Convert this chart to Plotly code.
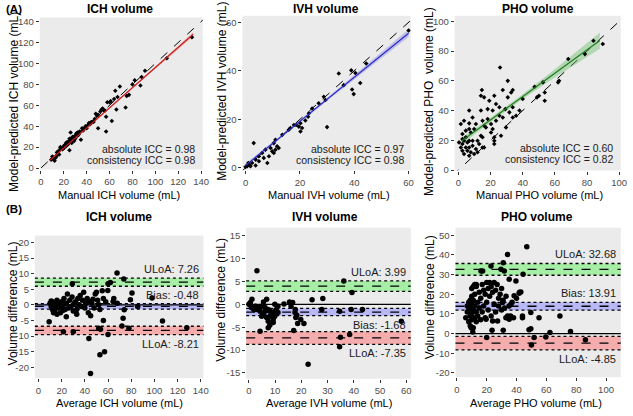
import plotly.graph_objects as go

W, H = 633, 416
FONT = "Liberation Sans, Arial, sans-serif"

# ---------------- Panel A data (manual, model-predicted) ----------------
ich_manual = [9,10,11,12,13,14,15,16,17,18,19,20,21,22,23,24,25,25,26,26,27,28,29,30,31,32,33,34,35,36,37,38,39,40,41,42,43,44,45,46,47,48,49,50,50,52,53,54,55,56,57,57,58,60,61,62,64,65,66,67,69,74,75,77,80,82,87,88,91,110,132,14,16,20,22,23,24,27,29,30,32,33,10]
ich_pred   = [8,9,10,7,10,12,14,13,20,19,18,21,22,24,22,25,17,28,34,26,24,30,28,31,33,31,34,35,27,38,36,38,40,38,41,43,42,44,44,44,47,52,50,38,51,54,56,57,55,55,35,49,63,63,64,45,66,74,56,68,78,58,69,70,80,84,79,87,93,105,125,15,17,19,21,25,23,29,26,28,34,32,11]

ivh_manual = [60,44.4,38.9,40.4,34.3,42.2,36.1,39.2,39.8,28.8,29.4,26.9,24.5,23,22,20.2,18.6,19.6,20.8,30,20.2,16.5,15.9,13.5,3,11,10.4,11.6,9.2,7.3,9.8,6.1,4.9,8,3.7,2.4,1.2,0.6,1.8,3.7,8.6,10.4,12.2,11,6.7,4.9,0,1,17.8,23.3]
ivh_pred   = [56.6,43,40.2,39.1,38.9,35,34.1,32.3,30.4,29.3,28,26.6,24.5,21.1,19.5,18.4,17.7,17,16.4,16.8,15,16.4,15.7,13.6,10.2,11.6,10.2,8.9,8.2,7.5,6.8,6.1,4.8,2,3.4,2,1.4,0.7,0.7,1,4.8,6.1,8.2,7.5,4.1,2.7,0.4,2,17.7,22.5]

pho_manual = [89.8,84,78.7,68.3,62.6,62,52.6,47.4,53.7,53.7,48.9,50.1,40,25.9,30.7,33.8,32.8,27.6,30.7,22.3,14.6,14,16,19.2,23.4,29.2,33.8,31.7,25.5,21.3,18.2,14,6.7,8.8,3.5,1.5,6.7,10.9,15,16,20.3,23.4,27.6,35.9,33.8,18.2,21.3,22.3,22.3,14,15,11.9,9.8,6.7,4.6,7.7,2.5,4.6,6.7,3.5,2.5,4.6,6.7,8.8,10.9,12.9,1.5,2.5,5.6,7.7,9.8,3.5,6.7,11.9,0.4,2.5,5.6,8.8,15,22.3,26.5,29.6,38,25.5,16,20.3,17.1]
pho_pred   = [84.8,87,78,74.7,60,59,59,56,52.2,46.6,48.9,50,47.8,69,60,53.8,52.2,53.8,48.9,50,53.8,50,48.9,46.6,44.4,41,42.2,38.8,36.5,40,41,40,40,35.4,33.2,31,31.4,31,33.2,29.8,31,33.2,35.4,36.5,35.4,34.3,27.6,22,19.7,23.1,22,19.7,27.6,27.6,26.5,25.3,24.2,22,19.7,19.7,17.5,15.2,15.2,16.4,14.1,17.5,15.2,13,13,11.9,10.8,10.8,9.6,11.9,18.6,20.8,18.6,19.7,15.2,17.5,23.1,28.7,40,42.2,15.2,25.3,28.7]

# regression fits with confidence ribbons
ich_fit_x = [8, 40, 70, 100, 133]
ich_fit_y = [7.5, 38.3, 67.2, 96.1, 127.9]
ich_fit_lo = [6.3, 37.6, 66.6, 95.0, 125.9]
ich_fit_hi = [8.7, 39.0, 67.8, 97.2, 129.9]

ivh_fit_x = [0, 15, 30, 45, 60]
ivh_fit_y = [1.0, 14.6, 28.3, 41.9, 55.5]
ivh_fit_lo = [0.2, 14.1, 27.7, 40.9, 53.9]
ivh_fit_hi = [1.8, 15.1, 28.9, 42.9, 57.1]

pho_fit_x = [2, 20, 40, 60, 88]
pho_fit_y = [19.6, 33.7, 49.4, 65.1, 87.1]
pho_fit_lo = [17.4, 32.2, 47.8, 62.3, 81.6]
pho_fit_hi = [21.8, 35.2, 51.0, 67.9, 92.6]

icc_abs = ["0.98", "0.97", "0.60"]
icc_con = ["0.98", "0.98", "0.82"]

# ---------------- Panel B data (average, difference) ----------------
ich_avg = [9.2,43.5,44.9,53,57,53.5,60,67.8,73.6,60,62,59.8,29.2,80.7,79.3,74,85.6,98,64.4,68,
           21.5,30,73,72,78,107,128,56,52,
           10,11,12,12,13,14,15,15,16,17,18,19,20,21,22,23,24,25,26,27,28,29,30,31,32,33,34,35,36,37,38,39,40,41,42,43,44,45,46,47,48,49,50,51,52,53,55,56,58,65,24,33,21,11,13,16]
ich_diff = [-5.4,-10.8,-22,-16,-15,-7.8,-9.5,10.2,8.3,6.8,7.2,4.6,6.8,3.8,1.6,-1.6,-0.5,2.2,1.1,0.5,
            -8.6,-8.6,-4.3,-6.8,-7.5,-5.2,-7.3,-5,-7.5,
            0.5,-0.5,1,-1.5,0,-2,0.8,-0.8,1.5,-1,0,-2.5,1,-0.5,2,-1.5,0.5,3.5,-1,1.5,-0.5,2.5,-2,0.5,1,-1.5,2,0,3,-0.5,1.5,4,-1,0.5,2,-2.5,1,-3.5,0.5,1.8,-1,3.5,4,1.5,0,-1.5,4.5,2,1,2,-3.8,-3,-1.8,1.2,-2.5,-3]

ivh_avg = [3.1,36.2,39.3,28.2,24.1,43.3,39,34.6,27.8,58.1,38.4,34.9,34.6,22.6,17.1,4.3,7.4,18.6,21,19.8,17.9,17.6,16.1,15.5,13.4,11.1,9.9,6.8,5.6,1.2,0.6,0,1,1.9,2.5,3.7,4.3,4.9,5.6,6.2,6.8,7.4,8,8.7,9.3,9.9,10.5,11.1,8,6.2,3.1,4.9,7.4,9.9,8,9.3,17.7,16.7,18.3]
ivh_diff = [7.35,5.1,2.6,1.3,1,-1.1,-1.1,-1.5,-1.1,-3.7,-6.6,-7.2,-9.3,-13.1,-5.7,-5.9,-5.1,-4.2,-4.2,-3.3,-2.9,-1.8,-0.4,0.5,0.1,-0.4,0,1.1,0.5,1.1,0.4,0,-0.7,-1.1,-0.4,-0.7,-1.5,-0.4,-2.2,-1.5,-2.9,-3.7,-2.6,-1.8,-3.3,-1.5,-1.1,-1.8,-1.5,-0.7,-1.1,-2.6,-1.1,-2.6,-4.6,-4,-1.1,0.4,-2.4]

pho_avg = [46.9,34,22.9,31.1,31.8,29.6,17.3,16.2,44.4,35.1,39.6,42.9,41.8,38.4,36.2,30.7,49.6,44,55.1,69.1,32.9,34,35.1,24,27.3,19.6,49.6,48.4,51.8,50,59.6,62.4,76.2,86.2,23.6,31.1,20,10.7,9.6,
           6,7,7,8,8,8,9,9,9,10,10,10,10,11,11,11,12,12,12,13,13,13,14,14,15,15,16,16,17,17,18,18,19,19,20,20,21,21,22,22,23,23,24,25,25,26,26,27,28,28,29,30,30,31,32,33,34,35,36,37,38,40,42,44,11,13,9,10,12]
pho_diff = [44.2,40.3,34.4,36.1,31.9,32.7,31.9,31.9,30.2,27.6,26.8,21.2,20.5,19.2,14.9,15.8,10.7,8.1,8.1,9,8.1,9,7.3,6.4,6.4,7.3,2.5,1.9,-2,-5.8,-1.7,0.5,1,-3.1,1.7,1.7,-2,0.8,3,
            8,11,14,6,12,16,9,13,4,10,15,19,7,12,17,3,8,14,20,11,24,6,16,9,13,21,18,7,11,25,14,22,20,8,26,16,23,12,26,19,24,9,21,26,15,22,11,25,18,14,20,23,12,17,13,19,8,14,9,16,8,18,21,9,24,25,17,23,25]

# limits of agreement: value, CI low, CI high  (order: ULoA, Bias, LLoA)
ich_loa = [7.26, -0.48, -8.21]
ich_loa_lo = [5.96, -1.38, -9.56]
ich_loa_hi = [8.56, 0.42, -6.86]
ivh_loa = [3.99, -1.68, -7.35]
ivh_loa_lo = [2.85, -2.48, -8.75]
ivh_loa_hi = [5.13, -0.88, -5.95]
pho_loa = [32.68, 13.91, -4.85]
pho_loa_lo = [29.68, 11.91, -8.25]
pho_loa_hi = [35.68, 15.91, -1.45]
loa_names = ["ULoA", "Bias", "LLoA"]
label_side = [["top", "top", "bottom"], ["top", "bottom", "bottom"], ["top", "top", "bottom"]]

titles = ["ICH volume", "IVH volume", "PHO volume"]

# ---------------- Layout geometry (pixels) ----------------
panels = {
    1: dict(x=(38.3, 203.3), y=(16.7, 171.0), xr=(-0.9, 141.4), yr=(-1.4, 144.0)),
    2: dict(x=(243.5, 414.0), y=(15.0, 171.7), xr=(-1.16, 60.8), yr=(-0.98, 62.7)),
    3: dict(x=(458.5, 626.7), y=(15.0, 172.0), xr=(-2.3, 101.0), yr=(-0.33, 103.8)),
    4: dict(x=(33.3, 204.0), y=(238.0, 382.7), xr=(-3.1, 142.3), yr=(-23.5, 22.2)),
    5: dict(x=(247.3, 414.0), y=(230.0, 383.3), xr=(-1.0, 61.7), yr=(-16.3, 16.8)),
    6: dict(x=(459.3, 626.7), y=(230.0, 381.7), xr=(-0.9, 109.9), yr=(-22.2, 53.9)),
}
ticks = {
    1: ([0, 20, 40, 60, 80, 100, 120, 140], [0, 20, 40, 60, 80, 100, 120, 140]),
    2: ([0, 20, 40, 60], [0, 20, 40, 60]),
    3: ([0, 20, 40, 60, 80, 100], [0, 20, 40, 60, 80, 100]),
    4: ([0, 20, 40, 60, 80, 100, 120, 140], [-20, -15, -10, -5, 0, 5, 10, 15, 20]),
    5: ([0, 10, 20, 30, 40, 50, 60], [-15, -10, -5, 0, 5, 10, 15]),
    6: ([0, 20, 40, 60, 80, 100], [-20, -10, 0, 10, 20, 30, 40, 50]),
}

TICK_SIZE = 9.5
XT_SIZE = 11
YT_SIZE = 12
TITLE_SIZE = 12
ICC_SIZE = 10.5
LOA_SIZE = 11

def px(x):
    return x / W

def py(y):
    return 1 - y / H

fig = go.Figure()
layout = dict(width=W, height=H, margin=dict(l=0, r=0, t=0, b=0),
              paper_bgcolor="white", plot_bgcolor="#EBEBEB", showlegend=False,
              font=dict(family=FONT, color="#000000"))

for k, p in panels.items():
    s = "" if k == 1 else str(k)
    xv, yv = ticks[k]
    common = dict(showgrid=False, zeroline=False, ticks="outside", ticklen=3, tickwidth=1,
                  tickcolor="#333333", tickfont=dict(size=TICK_SIZE, color="#4D4D4D", family=FONT),
                  showline=False, fixedrange=True)
    layout["xaxis" + s] = dict(domain=[px(p["x"][0]), px(p["x"][1])], range=list(p["xr"]),
                               anchor="y" + s, tickvals=xv, ticktext=[str(v) for v in xv], **common)
    layout["yaxis" + s] = dict(domain=[py(p["y"][1]), py(p["y"][0])], range=list(p["yr"]),
                               anchor="x" + s, tickvals=yv, ticktext=[str(v) for v in yv], **common)

# ---------------- Row A ----------------
scatterA = [(ich_manual, ich_pred), (ivh_manual, ivh_pred), (pho_manual, pho_pred)]
fitsA = [(ich_fit_x, ich_fit_y, ich_fit_lo, ich_fit_hi, "#C81E1E", "rgba(240,120,120,0.45)"),
         (ivh_fit_x, ivh_fit_y, ivh_fit_lo, ivh_fit_hi, "#2B2BC8", "rgba(140,140,230,0.45)"),
         (pho_fit_x, pho_fit_y, pho_fit_lo, pho_fit_hi, "#1E7B1E", "rgba(110,190,110,0.45)")]
for i in range(3):
    k = i + 1
    s = "" if k == 1 else str(k)
    xa, ya = "x" + s, "y" + s
    p = panels[k]
    lim = [min(p["xr"][0], p["yr"][0]) - 10, max(p["xr"][1], p["yr"][1]) + 10]
    fig.add_trace(go.Scatter(x=lim, y=lim, mode="lines", xaxis=xa, yaxis=ya,
                             line=dict(color="black", width=1, dash="dash"), hoverinfo="skip"))
    fx, fy, flo, fhi, lc, fc = fitsA[i]
    fig.add_trace(go.Scatter(x=fx + fx[::-1], y=fhi + flo[::-1], mode="lines", fill="toself",
                             fillcolor=fc, line=dict(width=0), xaxis=xa, yaxis=ya, hoverinfo="skip"))
    mx, my = scatterA[i]
    fig.add_trace(go.Scatter(x=mx, y=my, mode="markers", xaxis=xa, yaxis=ya,
                             marker=dict(color="black", size=3.5, symbol="diamond")))
    fig.add_trace(go.Scatter(x=fx, y=fy, mode="lines", xaxis=xa, yaxis=ya,
                             line=dict(color=lc, width=1.2), hoverinfo="skip"))

# ---------------- Row B ----------------
scatterB = [(ich_avg, ich_diff), (ivh_avg, ivh_diff), (pho_avg, pho_diff)]
loas = [(ich_loa, ich_loa_lo, ich_loa_hi), (ivh_loa, ivh_loa_lo, ivh_loa_hi), (pho_loa, pho_loa_lo, pho_loa_hi)]
band_colors = ["rgba(120,240,120,0.6)", "rgba(150,150,255,0.6)", "rgba(250,130,130,0.6)"]
shapes = []
annotations = []
for i in range(3):
    k = i + 4
    s = str(k)
    xa, ya = "x" + s, "y" + s
    vals, los, his = loas[i]
    for j in range(3):
        shapes.append(dict(type="rect", xref=xa + " domain", yref=ya, x0=0, x1=1, y0=los[j], y1=his[j],
                           fillcolor=band_colors[j], line=dict(width=0), layer="below"))
        for yy in (los[j], his[j]):
            shapes.append(dict(type="line", xref=xa + " domain", yref=ya, x0=0, x1=1, y0=yy, y1=yy,
                               line=dict(color="black", width=1.3, dash="dot"), layer="above"))
        shapes.append(dict(type="line", xref=xa + " domain", yref=ya, x0=0, x1=1, y0=vals[j], y1=vals[j],
                           line=dict(color="black", width=1.3, dash="dash"), layer="above"))
        side = label_side[i][j]
        annotations.append(dict(xref=xa + " domain", yref=ya, x=0.985,
                                y=his[j] if side == "top" else los[j],
                                xanchor="right", yanchor="bottom" if side == "top" else "top",
                                yshift=1 if side == "top" else -1,
                                text=f"{loa_names[j]}: {vals[j]:.2f}", showarrow=False,
                                font=dict(size=LOA_SIZE, color="#1A1A1A", family=FONT)))
    shapes.append(dict(type="line", xref=xa + " domain", yref=ya, x0=0, x1=1, y0=0, y1=0,
                       line=dict(color="black", width=1.2), layer="above"))
    ax, dy = scatterB[i]
    fig.add_trace(go.Scatter(x=ax, y=dy, mode="markers", xaxis=xa, yaxis=ya,
                             marker=dict(color="black", size=5.5)))

# ---------------- Text ----------------
def ann(x, y, text, size, bold=False, angle=0, color="#000000", xanchor="center"):
    annotations.append(dict(xref="paper", yref="paper", x=px(x), y=py(y), text=f"<b>{text}</b>" if bold else text,
                            showarrow=False, textangle=angle, xanchor=xanchor, yanchor="middle",
                            font=dict(size=size, color=color, family=FONT)))

ann(2, 8, "(A)", 11.5, bold=True, xanchor="left")
ann(2, 211, "(B)", 11.5, bold=True, xanchor="left")
title_x = [120, 328, 543]
for i in range(3):
    ann(title_x[i], 8, titles[i], TITLE_SIZE, bold=True)
    ann(title_x[i] - 1, 219, titles[i], TITLE_SIZE, bold=True)

ann(11.5, 102, "Model-predicted ICH volume (mL)", YT_SIZE, angle=-90)
ann(222, 92, "Model-predicted IVH volume (mL)", YT_SIZE, angle=-90)
ann(432, 102, "Model-predicted PHO  volume (mL)", YT_SIZE, angle=-90)
ann(119, 196.5, "Manual ICH volume (mL)", XT_SIZE)
ann(331, 196.5, "Manual IVH volume (mL)", XT_SIZE)
ann(544, 196.5, "Manual PHO volume (mL)", XT_SIZE)

ann(11, 307, "Volume difference (mL)", YT_SIZE, angle=-90)
ann(221, 303, "Volume difference (mL)", YT_SIZE, angle=-90)
ann(433, 301, "Volume difference (mL)", YT_SIZE, angle=-90)
ann(119, 408, "Average ICH volume (mL)", XT_SIZE)
ann(331, 408, "Average IVH volume (mL)", XT_SIZE)
ann(541, 408, "Average PHO volume (mL)", XT_SIZE)

icc_right = [197, 409.5, 620.5]
icc_y = [(150, 161.5), (150, 161), (149.3, 160.5)]
for i in range(3):
    ann(icc_right[i], icc_y[i][0], f"absolute ICC = {icc_abs[i]}", ICC_SIZE, color="#1A1A1A", xanchor="right")
    ann(icc_right[i], icc_y[i][1], f"consistency ICC = {icc_con[i]}", ICC_SIZE, color="#1A1A1A", xanchor="right")

layout["shapes"] = shapes
layout["annotations"] = annotations
fig.update_layout(**layout)
fig.write_html("out.html")
